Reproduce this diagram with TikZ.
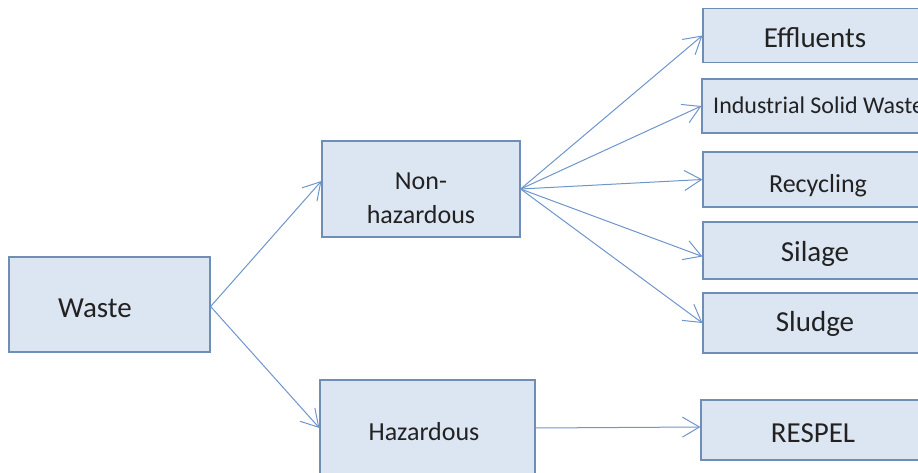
\documentclass[tikz,border=0pt]{standalone}
\usepackage{fontspec}
\setmainfont{Carlito}
\usetikzlibrary{arrows.meta}
\definecolor{boxfill}{HTML}{DCE6F2}
\definecolor{boxline}{HTML}{6F8DB5}
\definecolor{arrline}{HTML}{6E95CC}
\definecolor{txt}{HTML}{222222}
\tikzset{
  box/.style={draw=boxline, fill=boxfill, line width=1.2pt, inner sep=0pt, text=txt},
  lbl/.style={text=txt, inner sep=0pt},
  arr/.style={draw=arrline, line width=1pt, -{Straight Barb[length=17pt,width=20pt,line width=1pt]}},
  big/.style={font=\fontsize{29}{34}\selectfont},
  mid/.style={font=\fontsize{26}{34}\selectfont},
}
\begin{document}
\begin{tikzpicture}[x=1pt,y=-1pt]
\useasboundingbox (0,0) rectangle (918,473);
% boxes
\node[box, minimum width=201pt, minimum height=95pt] (waste) at (109.5,304.5) {};
\node[lbl, big, anchor=base west] (wastelbl) at (58,317) {Waste};
\node[box, minimum width=198pt, minimum height=96pt] (nonhaz) at (421,189) {};
\node[lbl, mid, anchor=base] (nonhazA) at (421,190) {Non-};
\node[lbl, mid, anchor=base] (nonhazB) at (421,224) {hazardous};
\node[box, minimum width=215pt, minimum height=104pt] (haz) at (427.5,432) {};
\node[lbl, mid, anchor=base] (hazlbl) at (424,440) {Hazardous};
\node[box, minimum width=224pt, minimum height=54pt] (eff) at (815,35.5) {};
\node[lbl, big, anchor=base] (efflbl) at (815,48) {Effluents};
\node[box, minimum width=224pt, minimum height=54pt] (ind) at (814,106) {};
\node[lbl, font=\fontsize{24}{28}\selectfont, anchor=base west] (indlbl) at (713,114) {Industrial Solid Waste};
\node[box, minimum width=224pt, minimum height=55pt] (rec) at (815,179.5) {};
\node[lbl, mid, anchor=base] (reclbl) at (818,193) {Recycling};
\node[box, minimum width=224pt, minimum height=57pt] (sil) at (815,250.5) {};
\node[lbl, big, anchor=base] (sillbl) at (815,261) {Silage};
\node[box, minimum width=224pt, minimum height=60pt] (slu) at (815,323) {};
\node[lbl, big, anchor=base] (slulbl) at (815,331) {Sludge};
\node[box, minimum width=224pt, minimum height=60pt] (res) at (813,430) {};
\node[lbl, big, anchor=base] (reslbl) at (813,442) {RESPEL};
% arrows
\draw[arr] ([yshift=-2pt]waste.east) -- ([yshift=8pt]nonhaz.west);
\draw[arr] ([yshift=-2pt]waste.east) -- ([yshift=4pt]haz.west);
\draw[arr] (nonhaz.east) -- (eff.west);
\draw[arr] (nonhaz.east) -- (ind.west);
\draw[arr] (nonhaz.east) -- (rec.west);
\draw[arr] (nonhaz.east) -- ([yshift=-6pt]sil.west);
\draw[arr] (nonhaz.east) -- (slu.west);
\draw[arr] ([yshift=4pt]haz.east) -- ([yshift=3pt]res.west);
\end{tikzpicture}
\end{document}
